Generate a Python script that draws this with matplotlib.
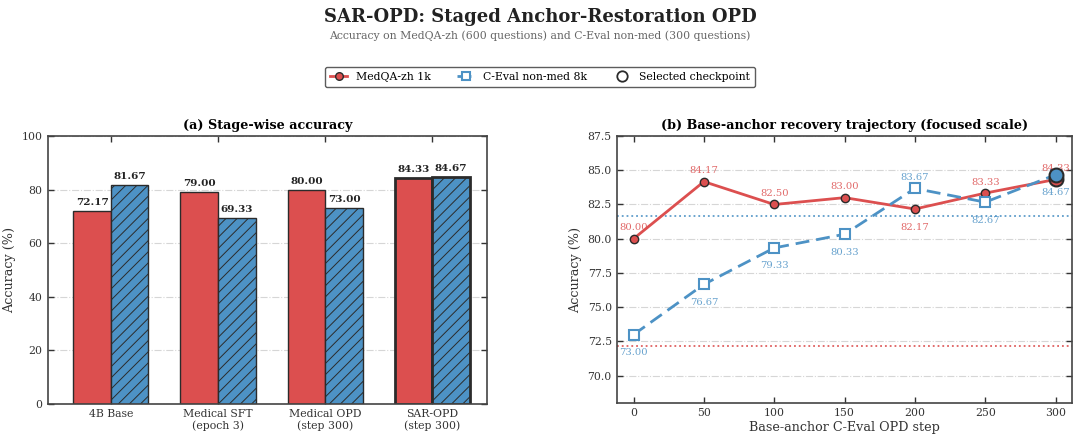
import numpy as np
import matplotlib
matplotlib.use("Agg")
import matplotlib.pyplot as plt
from matplotlib.lines import Line2D

plt.rcParams["font.family"] = ["DejaVu Serif"]
plt.rcParams["hatch.color"] = "#1c2b3a"
plt.rcParams["hatch.linewidth"] = 0.7

# data
stages = ["4B Base", "Medical SFT\n(epoch 3)", "Medical OPD\n(step 300)", "SAR-OPD\n(step 300)"]
medqa_stage = [72.17, 79.00, 80.00, 84.33]
ceval_stage = [81.67, 69.33, 73.00, 84.67]

steps = [0, 50, 100, 150, 200, 250, 300]
medqa_traj = [80.00, 84.17, 82.50, 83.00, 82.17, 83.33, 84.33]
ceval_traj = [73.00, 76.67, 79.33, 80.33, 83.67, 82.67, 84.67]
base_medqa = 72.17
base_ceval = 81.67

RED = "#dc4f4f"
BLUE = "#4d92c5"
EDGE = "#2b2b2b"

fig = plt.figure(figsize=(10.8, 4.43), dpi=100)
ax1 = fig.add_axes([0.044, 0.088, 0.407, 0.605])
ax2 = fig.add_axes([0.571, 0.090, 0.422, 0.603])

fig.text(0.5, 0.962, "SAR-OPD: Staged Anchor-Restoration OPD", ha="center", va="center",
         fontsize=13, fontweight="bold", color="#222222")
fig.text(0.5, 0.919, "Accuracy on MedQA-zh (600 questions) and C-Eval non-med (300 questions)",
         ha="center", va="center", fontsize=7.8, color="#666666")


def style(ax):
    ax.tick_params(direction="in", top=True, right=True, labelsize=7.8, colors="#333333",
                   length=4, width=1)
    for s in ax.spines.values():
        s.set_color("#444444")
        s.set_linewidth(1.2)
    ax.grid(axis="y", linestyle="-.", color="#cccccc", linewidth=0.8, alpha=0.8)
    ax.set_axisbelow(True)


# (a) bars
x = np.arange(len(stages))
w = 0.35
for i in range(len(stages)):
    lw = 2.0 if i == len(stages) - 1 else 1.0
    ax1.bar(x[i] - w / 2, medqa_stage[i], w, color=RED, edgecolor=EDGE, linewidth=lw)
    ax1.bar(x[i] + w / 2, ceval_stage[i], w, color=BLUE, edgecolor=EDGE, linewidth=lw, hatch="///")
    ax1.text(x[i] - w / 2, medqa_stage[i] + 1.5, f"{medqa_stage[i]:.2f}", ha="center", va="bottom",
             fontsize=7.5, fontweight="bold", color="#222222")
    ax1.text(x[i] + w / 2, ceval_stage[i] + 1.5, f"{ceval_stage[i]:.2f}", ha="center", va="bottom",
             fontsize=7.5, fontweight="bold", color="#222222")
ax1.set_xticks(x)
ax1.set_xticklabels(stages, fontsize=7.8)
ax1.set_ylim(0, 100)
ax1.set_xlim(-0.59, 3.51)
ax1.set_ylabel("Accuracy (%)", fontsize=9.2, color="#333333")
ax1.set_title("(a) Stage-wise accuracy", fontsize=9.2, fontweight="bold", pad=5)
style(ax1)

# (b) trajectory
ax2.axhline(base_ceval, color=BLUE, linestyle=":", linewidth=1.3, alpha=0.9)
ax2.axhline(base_medqa, color=RED, linestyle=":", linewidth=1.3, alpha=0.9)
ax2.plot(steps, medqa_traj, color=RED, linewidth=2, marker="o", markersize=6,
         markerfacecolor=RED, markeredgecolor=EDGE, markeredgewidth=1, zorder=3)
ax2.plot(steps, ceval_traj, color=BLUE, linewidth=2, linestyle=(0, (5, 2.5)), marker="s",
         markersize=6.5, markerfacecolor="white", markeredgecolor=BLUE, markeredgewidth=1.5, zorder=3)
ax2.plot(steps[-1], medqa_traj[-1], marker="o", markersize=10, markerfacecolor=RED,
         markeredgecolor=EDGE, markeredgewidth=1.5, linestyle="none", zorder=4)
ax2.plot(steps[-1], ceval_traj[-1], marker="o", markersize=10, markerfacecolor=BLUE,
         markeredgecolor=EDGE, markeredgewidth=1.5, linestyle="none", zorder=4)

for i, s in enumerate(steps):
    red_up = medqa_traj[i] >= ceval_traj[i] or i == len(steps) - 1
    r_off = 8 if red_up else -13
    b_off = -13 if red_up else 8
    ax2.annotate(f"{medqa_traj[i]:.2f}", (s, medqa_traj[i]), xytext=(0, r_off),
                 textcoords="offset points", ha="center", va="center", fontsize=7.2, color=RED, alpha=0.85)
    ax2.annotate(f"{ceval_traj[i]:.2f}", (s, ceval_traj[i]), xytext=(0, b_off),
                 textcoords="offset points", ha="center", va="center", fontsize=7.2, color=BLUE, alpha=0.85)

ax2.set_xlim(-12, 312)
ax2.set_ylim(68.0, 87.5)
ax2.set_xticks(steps)
ax2.set_yticks(np.arange(70, 87.6, 2.5))
ax2.yaxis.set_major_formatter(matplotlib.ticker.FormatStrFormatter("%.1f"))
ax2.set_xlabel("Base-anchor C-Eval OPD step", fontsize=9.2, color="#333333", labelpad=2)
ax2.set_ylabel("Accuracy (%)", fontsize=9.2, color="#333333")
ax2.set_title("(b) Base-anchor recovery trajectory (focused scale)", fontsize=9.2, fontweight="bold", pad=5)
style(ax2)

handles = [
    Line2D([], [], color=RED, linewidth=2, marker="o", markersize=5.5, markerfacecolor=RED,
           markeredgecolor=EDGE),
    Line2D([], [], color=BLUE, linewidth=2, linestyle=(0, (5, 2.5)), marker="s", markersize=5.5,
           markerfacecolor="white", markeredgecolor=BLUE, markeredgewidth=1.5),
    Line2D([], [], linestyle="none", marker="o", markersize=7.5, markerfacecolor="none",
           markeredgecolor=EDGE, markeredgewidth=1.3),
]
leg = fig.legend(handles, ["MedQA-zh 1k", "C-Eval non-med 8k", "Selected checkpoint"],
                 loc="center", bbox_to_anchor=(0.5, 0.826), ncol=3, fontsize=7.8,
                 frameon=True, fancybox=True, edgecolor="#333333", handlelength=1.6,
                 columnspacing=2.4, borderpad=0.45)
leg.get_frame().set_linewidth(1.0)

fig.savefig("out.png", dpi=100)
